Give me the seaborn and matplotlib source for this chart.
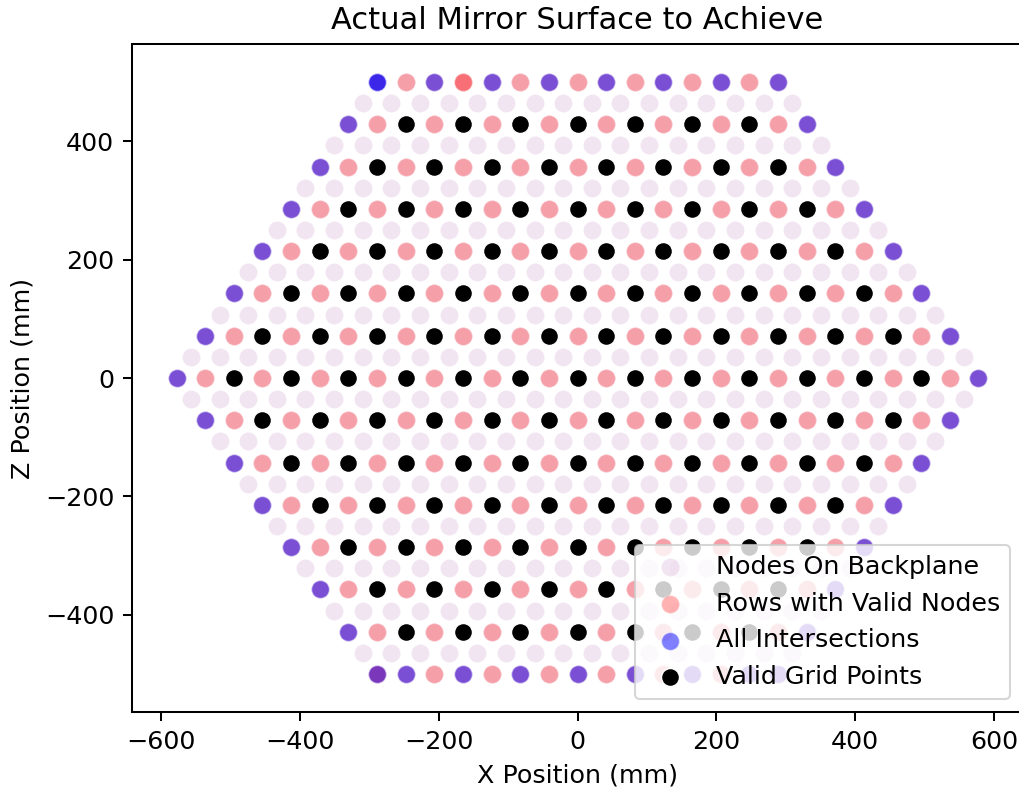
import numpy as np
import pandas as pd
import matplotlib
matplotlib.use("Agg")
import matplotlib.pyplot as plt
import seaborn as sns

# ---------------- data ----------------
PITCH = 41.24  # mm between neighbouring nodes along a row

# Nodes on backplane: z of each backplane row and number of nodes in it
node_row_z = [-500.0, -464.3, -428.6, -392.9, -357.1, -321.4, -285.7, -250.0,
              -214.3, -178.6, -142.9, -107.1, -71.4, -35.7, 0.0, 35.7, 71.4,
              107.1, 142.9, 178.6, 214.3, 250.0, 285.7, 321.4, 357.1, 392.9,
              428.6, 464.3, 500.0]
node_row_count = [15, 16, 17, 18, 19, 20, 21, 22, 23, 24, 25, 26, 27, 28, 29,
                  28, 27, 26, 25, 24, 23, 22, 21, 20, 19, 18, 17, 16, 15]

# Rows with valid nodes (every second backplane row)
valid_row_z = [-500.0, -428.6, -357.1, -285.7, -214.3, -142.9, -71.4, 0.0,
               71.4, 142.9, 214.3, 285.7, 357.1, 428.6, 500.0]
valid_row_count = [15, 17, 19, 21, 23, 25, 27, 29, 27, 25, 23, 21, 19, 17, 15]
# nodes of those rows that appear twice (index along the row from the centre)
valid_row_repeat = {500.0: [-4], -500.0: [-7]}

# All intersections: node indices (from row centre) per row
intersection_rows = {
    500.0: [-7, -7, -5, -3, -1, 1, 3, 5, 7],
    428.6: [-8, 8],
    357.1: [-9, 9],
    285.7: [-10, 10],
    214.3: [-11, 11],
    142.9: [-12, 12],
    71.4: [-13, 13],
    0.0: [-14, 14],
    -71.4: [-13, 13],
    -142.9: [-12, 12],
    -214.3: [-11, 11],
    -285.7: [-10, 10],
    -357.1: [-9, 9],
    -428.6: [-8, 8],
    -500.0: [-7, -6, -4, -2, 0, 2, 4, 6, 7],
}

# Valid grid points: row z, first and last node index (every second node)
valid_grid_rows = [
    (428.6, -6, 6), (357.1, -7, 7), (285.7, -8, 8), (214.3, -9, 9),
    (142.9, -10, 10), (71.4, -11, 11), (0.0, -12, 12), (-71.4, -11, 11),
    (-142.9, -10, 10), (-214.3, -9, 9), (-285.7, -8, 8), (-357.1, -7, 7),
    (-428.6, -6, 6),
]

# ---------------- build tables ----------------
def row_points(zs, counts):
    xs, zz = [], []
    for z, n in zip(zs, counts):
        for i in range(n):
            xs.append((i - (n - 1) / 2) * PITCH)
            zz.append(z)
    return pd.DataFrame({"x": xs, "z": zz})

nodes = row_points(node_row_z, node_row_count)
rows = row_points(valid_row_z, valid_row_count)
rep = pd.DataFrame([(k * PITCH, z) for z, ks in valid_row_repeat.items() for k in ks],
                   columns=["x", "z"])
rows = pd.concat([rows, rep], ignore_index=True)
inter = pd.DataFrame([(k * PITCH, z) for z, ks in intersection_rows.items() for k in ks],
                     columns=["x", "z"])
valid = pd.DataFrame([(k * PITCH, z) for z, k0, k1 in valid_grid_rows
                      for k in range(k0, k1 + 1, 2)], columns=["x", "z"])

# ---------------- style ----------------
SC = 1.22
plt.rcParams.update({
    "font.family": ["DejaVu Sans"],
    "font.size": 10 * SC,
    "axes.titlesize": 12 * SC,
    "axes.labelsize": 10 * SC,
    "xtick.labelsize": 10 * SC,
    "ytick.labelsize": 10 * SC,
    "legend.fontsize": 10 * SC,
    "axes.linewidth": 0.8 * SC,
    "xtick.major.size": 3.5 * SC,
    "ytick.major.size": 3.5 * SC,
    "xtick.major.width": 0.8 * SC,
    "ytick.major.width": 0.8 * SC,
    "xtick.major.pad": 3.5 * SC,
    "ytick.major.pad": 3.5 * SC,
    "axes.titlepad": 6 * SC,
    "axes.labelpad": 4 * SC,
})

# ---------------- plot ----------------
W, H, DPI = 1019, 789, 150
fig = plt.figure(figsize=(W / DPI, H / DPI), dpi=DPI)
ax = fig.add_axes([132 / W, (H - 712) / H, (1023 - 132) / W, (712 - 44) / H])

S = 75
sns.scatterplot(data=nodes, x="x", y="z", ax=ax, color="purple", alpha=0.1,
                s=S, label="Nodes On Backplane")
sns.scatterplot(data=rows, x="x", y="z", ax=ax, color="red", alpha=0.3,
                s=S, label="Rows with Valid Nodes")
sns.scatterplot(data=inter, x="x", y="z", ax=ax, color="blue", alpha=0.5,
                s=S, label="All Intersections")
sns.scatterplot(data=valid, x="x", y="z", ax=ax, color="black", alpha=1.0,
                s=S, label="Valid Grid Points")

ax.set_xlim(-641.5, 641.5)
ax.set_ylim(-564, 564)
ax.set_xticks([-600, -400, -200, 0, 200, 400, 600])
ax.set_yticks([-400, -200, 0, 200, 400])
ax.set_title("Actual Mirror Surface to Achieve")
ax.set_xlabel("X Position (mm)")
ax.set_ylabel("Z Position (mm)")
ax.legend(loc="lower right")

fig.savefig("out.png", dpi=DPI)
